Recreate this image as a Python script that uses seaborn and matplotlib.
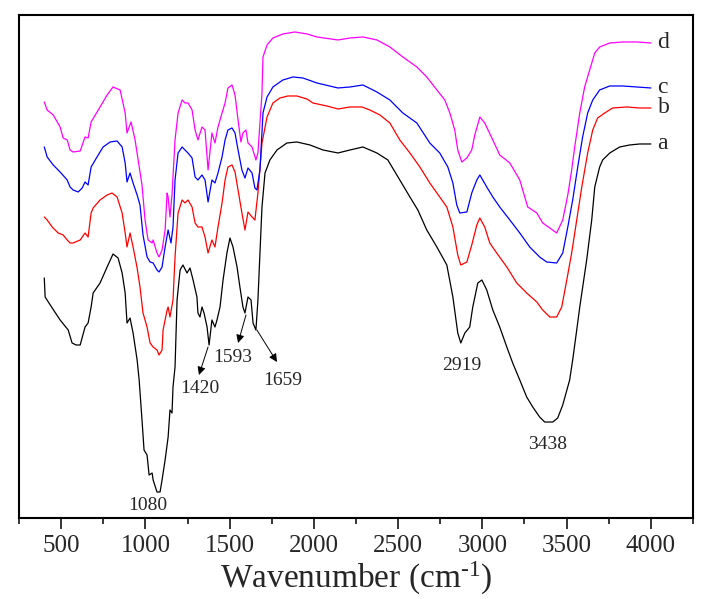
import pandas as pd
import matplotlib
matplotlib.use("Agg")
import matplotlib.pyplot as plt
import matplotlib.ticker as ticker
import seaborn as sns

# FTIR spectra, transmittance in arbitrary units (curves already offset)
wn_a = [400, 405, 447, 494, 542, 565, 589, 613, 642, 660,
        678, 690, 731, 773, 808, 838, 862, 880, 891, 909,
        927, 951, 963, 980, 992, 1010, 1022, 1040, 1046, 1069,
        1087, 1099, 1117, 1135, 1146, 1158, 1164, 1176, 1188, 1206,
        1223, 1247, 1265, 1283, 1306, 1312, 1324, 1336, 1348, 1366,
        1378, 1395, 1413, 1425, 1443, 1461, 1484, 1502, 1520, 1544,
        1561, 1579, 1591, 1609, 1627, 1639, 1656, 1668, 1680, 1692,
        1710, 1739, 1781, 1840, 1899, 1977, 2054, 2143, 2214, 2291,
        2374, 2439, 2510, 2570, 2617, 2670, 2730, 2789, 2825, 2854,
        2872, 2896, 2925, 2943, 2973, 2997, 3026, 3062, 3103, 3145,
        3180, 3222, 3263, 3299, 3340, 3370, 3418, 3447, 3477, 3518,
        3536, 3560, 3578, 3619, 3649, 3667, 3696, 3714, 3756, 3815,
        3874, 3933, 4000]
t_a = [322, 303, 292, 280, 270, 257, 255, 255, 273, 277,
       293, 307, 317, 333, 346, 342, 327, 307, 277, 282,
       267, 240, 220, 180, 150, 145, 125, 127, 120, 108,
       108, 120, 140, 163, 190, 187, 213, 233, 300, 330,
       335, 327, 332, 320, 303, 287, 283, 293, 287, 273,
       255, 280, 273, 280, 293, 320, 347, 362, 353, 333,
       313, 293, 287, 303, 300, 277, 270, 300, 347, 393,
       427, 440, 450, 457, 458, 455, 450, 447, 450, 453,
       447, 440, 420, 403, 390, 370, 353, 335, 303, 267,
       257, 267, 273, 293, 317, 320, 310, 290, 273, 253,
       237, 220, 203, 193, 183, 178, 178, 182, 195, 220,
       240, 270, 293, 340, 380, 413, 433, 440, 447, 453,
       455, 456, 456]

wn_b = [400, 417, 447, 482, 512, 536, 553, 571, 613, 642,
        660, 678, 690, 731, 773, 802, 832, 862, 880, 891,
        909, 927, 951, 968, 986, 1010, 1028, 1046, 1069, 1081,
        1099, 1105, 1129, 1135, 1146, 1164, 1176, 1194, 1218, 1235,
        1253, 1277, 1295, 1312, 1336, 1354, 1372, 1395, 1413, 1431,
        1455, 1473, 1490, 1514, 1532, 1550, 1573, 1591, 1609, 1633,
        1650, 1668, 1692, 1722, 1757, 1799, 1846, 1899, 1959, 1994,
        2077, 2143, 2214, 2285, 2332, 2392, 2451, 2510, 2570, 2629,
        2688, 2747, 2789, 2825, 2854, 2872, 2908, 2937, 2967, 2985,
        3014, 3044, 3085, 3145, 3204, 3263, 3323, 3358, 3400, 3441,
        3471, 3501, 3530, 3560, 3590, 3625, 3655, 3684, 3726, 3773,
        3856, 3933, 4000]
t_b = [383, 380, 373, 367, 365, 360, 357, 357, 360, 367,
       363, 387, 392, 400, 405, 407, 403, 387, 367, 353,
       367, 353, 332, 313, 287, 273, 257, 253, 250, 245,
       250, 270, 290, 293, 283, 300, 343, 387, 400, 397,
       400, 393, 377, 373, 373, 363, 347, 360, 353, 373,
       397, 420, 433, 435, 428, 410, 387, 370, 388, 383,
       380, 407, 457, 483, 497, 502, 504, 504, 501, 497,
       494, 491, 493, 493, 490, 485, 477, 460, 447, 433,
       417, 403, 393, 373, 345, 335, 338, 355, 375, 382,
       373, 357, 347, 333, 317, 307, 298, 290, 283, 283,
       293, 320, 347, 380, 413, 447, 470, 482, 487, 492,
       493, 492, 492]

wn_c = [400, 417, 453, 494, 536, 553, 571, 601, 625, 642,
        660, 678, 713, 749, 791, 832, 862, 880, 891, 909,
        927, 951, 968, 986, 1010, 1028, 1046, 1069, 1081, 1099,
        1117, 1135, 1152, 1164, 1176, 1194, 1218, 1235, 1253, 1277,
        1295, 1312, 1336, 1354, 1372, 1395, 1413, 1431, 1455, 1473,
        1490, 1514, 1532, 1550, 1573, 1591, 1609, 1633, 1650, 1662,
        1680, 1698, 1722, 1757, 1816, 1876, 1935, 2018, 2143, 2214,
        2291, 2374, 2451, 2528, 2611, 2688, 2747, 2795, 2825, 2848,
        2866, 2908, 2937, 2967, 2985, 3026, 3062, 3103, 3163, 3222,
        3281, 3340, 3382, 3441, 3477, 3507, 3536, 3566, 3595, 3625,
        3655, 3696, 3756, 3833, 3916, 4000]
t_c = [453, 443, 435, 428, 420, 413, 410, 408, 412, 418,
       415, 433, 443, 453, 458, 459, 453, 437, 418, 427,
       417, 405, 395, 365, 343, 338, 337, 330, 328, 333,
       353, 370, 357, 373, 420, 447, 453, 450, 447, 442,
       423, 420, 425, 420, 398, 420, 417, 427, 443, 460,
       470, 472, 467, 450, 430, 422, 432, 427, 412, 410,
       430, 487, 503, 513, 520, 523, 522, 517, 512, 513,
       515, 508, 500, 487, 477, 457, 447, 433, 417, 395,
       387, 388, 407, 420, 425, 413, 403, 393, 380, 367,
       353, 343, 338, 337, 347, 373, 400, 433, 463, 487,
       500, 510, 514, 514, 513, 512]

wn_d = [400, 417, 453, 494, 512, 536, 553, 571, 613, 642,
        660, 678, 731, 773, 808, 850, 880, 891, 915, 939,
        957, 980, 998, 1016, 1040, 1046, 1069, 1081, 1099, 1117,
        1129, 1135, 1146, 1158, 1176, 1194, 1218, 1235, 1253, 1277,
        1295, 1312, 1336, 1354, 1372, 1395, 1413, 1431, 1455, 1473,
        1490, 1514, 1532, 1550, 1567, 1579, 1597, 1609, 1633, 1656,
        1668, 1692, 1698, 1722, 1757, 1816, 1887, 1959, 2018, 2143,
        2214, 2291, 2374, 2451, 2528, 2611, 2670, 2730, 2777, 2807,
        2836, 2854, 2878, 2908, 2937, 2955, 2985, 3014, 3062, 3103,
        3163, 3222, 3269, 3323, 3358, 3400, 3441, 3477, 3507, 3530,
        3548, 3578, 3607, 3637, 3667, 3696, 3756, 3833, 3916, 4000]
t_d = [498, 490, 485, 473, 462, 460, 450, 448, 449, 463,
       462, 478, 493, 505, 513, 510, 487, 467, 478, 460,
       440, 415, 380, 360, 357, 360, 347, 343, 350, 370,
       407, 403, 383, 405, 460, 487, 500, 497, 497, 490,
       470, 460, 473, 470, 430, 467, 457, 473, 487, 497,
       512, 515, 505, 480, 458, 467, 470, 457, 453, 440,
       447, 507, 543, 555, 562, 566, 568, 566, 563, 560,
       562, 563, 560, 553, 543, 533, 523, 510, 500, 487,
       470, 450, 438, 442, 450, 465, 483, 477, 460, 445,
       437, 420, 393, 387, 377, 372, 367, 380, 405, 430,
       453, 487, 513, 530, 547, 553, 557, 558, 558, 557]

samples = ["a", "b", "c", "d"]
colors = {"a": "black", "b": "#ff0000", "c": "#0000ff", "d": "#ff00ff"}

# peak labels: text, text position, arrow (tail on the curve, head near the text)
peak_labels = [
    ("1080", (1016, 95), None),
    ("1420", (1324, 212), ((1372, 253), (1318, 225))),
    ("1593", (1520, 243), ((1597, 285), (1550, 257))),
    ("1659", (1816, 220), ((1662, 270), (1781, 238))),
    ("2919", (2878, 235), None),
    ("3438", (3388, 156), None),
]

frames = []
for name, wn, t in zip(samples, [wn_a, wn_b, wn_c, wn_d], [t_a, t_b, t_c, t_d]):
    frames.append(pd.DataFrame({"Wavenumber": wn, "T": t, "Sample": name}))
df = pd.concat(frames, ignore_index=True)

sns.set_style("ticks")
plt.rcParams["font.family"] = ["Liberation Serif", "DejaVu Serif"]
plt.rcParams["mathtext.fontset"] = "custom"
plt.rcParams["mathtext.rm"] = "Liberation Serif"
plt.rcParams["mathtext.it"] = "Liberation Serif:italic"

fig = plt.figure(figsize=(7.12, 5.99), dpi=100)
ax = fig.add_axes([0.0267, 0.1352, 0.9466, 0.8398])

sns.lineplot(data=df, x="Wavenumber", y="T", hue="Sample", palette=colors,
             estimator=None, sort=False, linewidth=0.9, legend=False, ax=ax)

ax.set_xlim(250, 4250)
ax.set_ylim(82, 585)
ax.set_yticks([])
ax.set_ylabel("")
ax.set_xlabel("Wavenumber (cm$^{\\text{-}1}$)", fontsize=24, labelpad=2)

ax.xaxis.set_major_locator(ticker.MultipleLocator(500))
ax.xaxis.set_minor_locator(ticker.AutoMinorLocator(2))
ax.tick_params(axis="x", which="major", direction="out", length=8, width=1.3,
               labelsize=18, pad=4)
ax.tick_params(axis="x", which="minor", direction="out", length=4.5, width=1.3)
for sp in ax.spines.values():
    sp.set_linewidth(1.5)
    sp.set_color("black")

# curve names at the right end
for name, t in zip(samples, [t_a, t_b, t_c, t_d]):
    ax.text(4040, t[-1], name, fontsize=17, va="center", ha="left")

for label, pos, arrow in peak_labels:
    ax.text(pos[0], pos[1], label, fontsize=14, ha="center", va="center")
    if arrow is not None:
        tail, head = arrow
        ax.annotate("", xy=head, xytext=tail,
                    arrowprops=dict(arrowstyle="-|>", color="black", lw=0.7,
                                    mutation_scale=12, shrinkA=0, shrinkB=0))

plt.savefig("out.png", dpi=100)
plt.close()
